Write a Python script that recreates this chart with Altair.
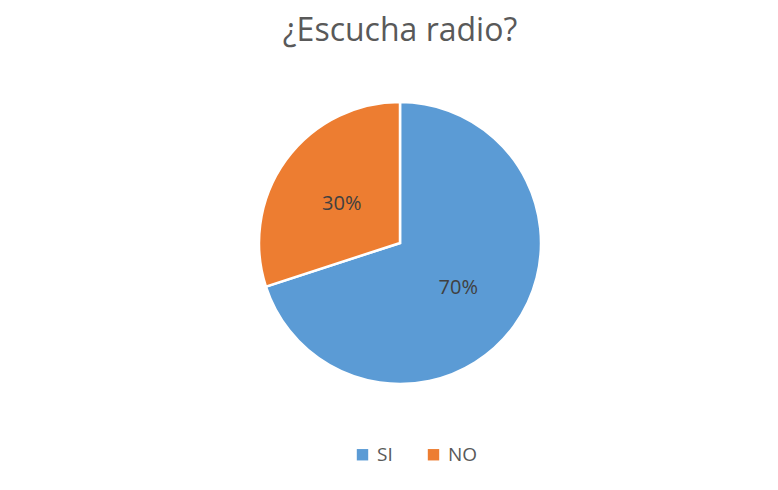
import altair as alt
import pandas as pd

categorias = ["SI", "NO"]
valores = [70, 30]
etiquetas = ["70%", "30%"]
colores = ["#5B9BD5", "#ED7D31"]

df = pd.DataFrame({
    "respuesta": categorias,
    "valor": valores,
    "etiqueta": etiquetas,
    "orden": list(range(len(categorias))),
})

base = alt.Chart(df).encode(
    theta=alt.Theta("valor:Q", stack=True),
    order=alt.Order("orden:Q"),
)

pie = base.mark_arc(outerRadius=141, stroke="white", strokeWidth=2.5).encode(
    color=alt.Color(
        "respuesta:N",
        scale=alt.Scale(domain=categorias, range=colores),
        sort=categorias,
        legend=alt.Legend(
            title=None,
            orient="none",
            legendX=203,
            legendY=352,
            direction="horizontal",
            symbolType="square",
            symbolSize=130,
            symbolStrokeWidth=0,
            labelFont="Open Sans",
            labelFontSize=19,
            labelColor="#595959",
            labelOffset=5,
            columnPadding=31,
        ),
    )
)

text = base.mark_text(radius=72, dy=3, font="Open Sans", fontSize=20, color="#404040").encode(
    text="etiqueta:N"
)

chart = (
    alt.layer(pie, text)
    .properties(
        width=500,
        height=300,
        padding={"left": 142, "top": 85, "right": 0, "bottom": 85},
        autosize=alt.AutoSizeParams(type="none"),
        title=alt.TitleParams(
            "¿Escucha radio?",
            font="Open Sans",
            fontSize=32,
            fontWeight="normal",
            color="#595959",
            anchor="middle",
            offset=45,
        ),
    )
    .configure_view(stroke=None)
)

chart.save("out.html", embed_options={"renderer": "svg", "actions": False})
